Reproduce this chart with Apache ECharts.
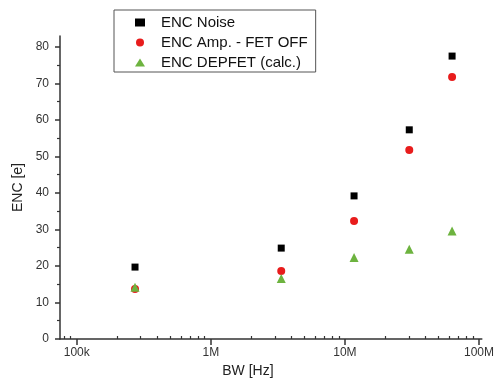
<!DOCTYPE html>
<html>
<head>
<meta charset="utf-8">
<script src="https://cdn.jsdelivr.net/npm/echarts@6/dist/echarts.min.js"></script>
<style>
  html, body { margin: 0; padding: 0; background: #fff; }
  #chart { width: 497px; height: 389px; }
</style>
</head>
<body>
<div id="chart"></div>
<script>
// bandwidth values (Hz)
const bw = [2.72e5, 3.35e6, 1.17e7, 3.02e7, 6.3e7];
const encNoise = [19.7, 24.9, 39.2, 57.3, 77.5];
const encAmpFetOff = [13.7, 18.6, 32.3, 51.8, 71.8];
const encDepfet = [14.2, 16.6, 22.3, 24.6, 29.6];

const xMajorTicks = [1e5, 1e6, 1e7, 1e8];
const xTickLabels = ['100k', '1M', '10M', '100M'];
const xMinorTicks = [8e4, 9e4, 2e5, 3e5, 4e5, 5e5, 6e5, 7e5, 8e5, 9e5,
  2e6, 3e6, 4e6, 5e6, 6e6, 7e6, 8e6, 9e6,
  2e7, 3e7, 4e7, 5e7, 6e7, 7e7, 8e7, 9e7];
const yMajorTicks = [0, 10, 20, 30, 40, 50, 60, 70, 80];
const yMinorTicks = [5, 15, 25, 35, 45, 55, 65, 75];

const font = 'Liberation Sans, Arial, sans-serif';
const axisColor = '#333';

const chart = echarts.init(document.getElementById('chart'));

const xBase = {
  type: 'log',
  min: 7.5e4,
  max: 1.05e8,
  splitLine: { show: false },
  axisLine: { lineStyle: { color: axisColor, width: 1.5 } }
};
const yBase = {
  type: 'value',
  min: 0,
  max: 83,
  splitLine: { show: false },
  axisLine: { lineStyle: { color: axisColor, width: 1.5 } }
};

chart.setOption({
  animation: false,
  grid: { left: 60, right: 14, top: 36, bottom: 50 },
  legend: {
    orient: 'vertical',
    left: 114,
    top: 10,
    padding: [5, 8, 2, 21],
    itemGap: 5,
    itemWidth: 10,
    itemHeight: 8,
    borderColor: '#555',
    borderWidth: 1,
    textStyle: { fontFamily: font, fontSize: 15, color: '#111', lineHeight: 14, padding: [0, 0, 0, 11] },
    data: ['ENC Noise', 'ENC Amp. - FET OFF', 'ENC DEPFET (calc.)']
  },
  xAxis: [
    Object.assign({}, xBase, {
      name: 'BW [Hz]',
      nameLocation: 'middle',
      nameGap: 24,
      nameTextStyle: { fontFamily: font, fontSize: 14, color: '#222', padding: [0, 46, 0, 0] },
      axisTick: { customValues: xMajorTicks, length: 6, lineStyle: { color: axisColor, width: 1.5 } },
      axisLabel: {
        customValues: xMajorTicks,
        margin: 8,
        fontFamily: font, fontSize: 12, color: '#333',
        formatter: v => xTickLabels[xMajorTicks.indexOf(v)] ?? ''
      }
    }),
    Object.assign({}, xBase, {
      axisLine: { show: false },
      axisLabel: { show: false },
      axisTick: { customValues: xMinorTicks, length: 3, lineStyle: { color: axisColor, width: 1.2 } }
    })
  ],
  yAxis: [
    Object.assign({}, yBase, {
      name: 'ENC [e]',
      nameLocation: 'middle',
      nameGap: 34,
      nameTextStyle: { fontFamily: font, fontSize: 14, color: '#222' },
      axisTick: { customValues: yMajorTicks, length: 5, lineStyle: { color: axisColor, width: 1.5 } },
      axisLabel: { customValues: yMajorTicks, margin: 11, fontFamily: font, fontSize: 12, color: '#333' }
    }),
    Object.assign({}, yBase, {
      position: 'left',
      axisLine: { show: false },
      axisLabel: { show: false },
      axisTick: { customValues: yMinorTicks, length: 3, lineStyle: { color: axisColor, width: 1.2 } }
    })
  ],
  series: [
    {
      name: 'ENC Noise',
      type: 'scatter',
      symbol: 'rect',
      symbolSize: 7,
      itemStyle: { color: '#000', opacity: 1 },
      data: bw.map((x, i) => [x, encNoise[i]])
    },
    {
      name: 'ENC Amp. - FET OFF',
      type: 'scatter',
      symbol: 'circle',
      symbolSize: 8,
      itemStyle: { color: '#e81c1c', opacity: 1 },
      data: bw.map((x, i) => [x, encAmpFetOff[i]])
    },
    {
      name: 'ENC DEPFET (calc.)',
      type: 'scatter',
      symbol: 'triangle',
      symbolSize: 9,
      itemStyle: { color: '#6db33f', opacity: 1 },
      data: bw.map((x, i) => [x, encDepfet[i]])
    }
  ]
});
</script>
</body>
</html>
